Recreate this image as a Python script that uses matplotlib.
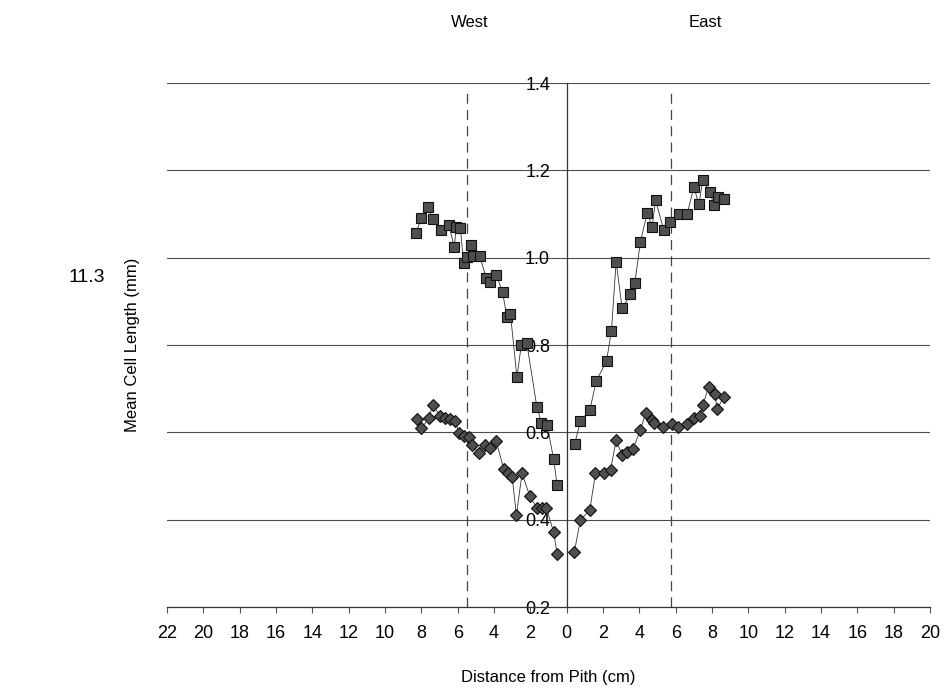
import matplotlib
matplotlib.use("Agg")
import matplotlib.pyplot as plt

plt.rcParams['font.family'] = ['Liberation Sans', 'DejaVu Sans']

# West side (plotted at negative distance)
west_sq_x = [8.28, 8.0, 7.64, 7.37, 6.9, 6.5, 6.19, 6.08, 5.86, 5.67, 5.49, 5.25, 5.16, 4.79,
             4.42, 4.2, 3.87, 3.53, 3.3, 3.1, 2.74, 2.5, 2.2, 1.64, 1.39, 1.08, 0.72, 0.53]
west_sq_y = [1.057, 1.092, 1.115, 1.089, 1.063, 1.076, 1.025, 1.07, 1.068, 0.987, 1.002, 1.029, 1.003, 1.003,
             0.953, 0.945, 0.96, 0.921, 0.865, 0.872, 0.726, 0.80, 0.805, 0.657, 0.622, 0.617, 0.539, 0.479]

west_di_x = [8.25, 8.0, 7.6, 7.37, 6.96, 6.68, 6.41, 6.13, 5.95, 5.67, 5.4, 5.22, 4.85, 4.48,
             4.2, 3.88, 3.47, 3.25, 3.0, 2.77, 2.46, 2.04, 1.64, 1.36, 1.12, 0.72, 0.53]
west_di_y = [0.63, 0.609, 0.632, 0.663, 0.637, 0.632, 0.63, 0.627, 0.599, 0.592, 0.59, 0.571, 0.553, 0.571,
             0.565, 0.58, 0.516, 0.506, 0.497, 0.41, 0.506, 0.455, 0.426, 0.427, 0.426, 0.372, 0.321]

# East side
east_sq_x = [0.44, 0.75, 1.27, 1.63, 2.19, 2.46, 2.72, 3.05, 3.51, 3.75, 4.06, 4.43, 4.7, 4.89,
             5.34, 5.71, 6.17, 6.63, 7.0, 7.27, 7.49, 7.88, 8.1, 8.35, 8.65]
east_sq_y = [0.573, 0.626, 0.651, 0.718, 0.763, 0.832, 0.991, 0.884, 0.916, 0.943, 1.037, 1.103, 1.071, 1.132,
             1.063, 1.082, 1.101, 1.1, 1.162, 1.122, 1.177, 1.151, 1.12, 1.14, 1.135]

east_di_x = [0.42, 0.75, 1.27, 1.58, 2.04, 2.41, 2.72, 3.05, 3.32, 3.64, 4.06, 4.34, 4.7, 4.8,
             5.31, 5.77, 6.13, 6.63, 7.0, 7.31, 7.49, 7.82, 8.15, 8.28, 8.65]
east_di_y = [0.326, 0.399, 0.422, 0.506, 0.506, 0.514, 0.582, 0.548, 0.556, 0.562, 0.605, 0.644, 0.628, 0.622,
             0.613, 0.618, 0.613, 0.618, 0.632, 0.637, 0.663, 0.704, 0.688, 0.653, 0.682]

x_ticks = list(range(-22, 21, 2))
x_tick_labels = [str(abs(v)) for v in x_ticks]
y_ticks = [0.2, 0.4, 0.6, 0.8, 1.0, 1.2, 1.4]
y_tick_labels = ["0.2", "0.4", "0.6", "0.8", "1.0", "1.2", "1.4"]
boundary_x = [-5.5, 5.73]

fig = plt.figure(figsize=(9.48, 6.89), dpi=100)
ax = fig.add_axes([0.1762, 0.119, 0.8049, 0.7605])
ax.set_xlim(-22, 20)
ax.set_ylim(0.2, 1.4)

for yv in y_ticks[1:]:
    ax.axhline(yv, color='#4d4d4d', lw=0.8, zorder=1)

for bx in boundary_x:
    ax.plot([bx, bx], [0.2, 1.39], color='#444444', lw=0.9, ls=(0, (8, 5)), zorder=1)

line_kw = dict(color='#333333', lw=0.6, zorder=2)
sq_kw = dict(marker='s', ms=7.5, mfc='#4f4f4f', mec='#111111', mew=0.8)
di_kw = dict(marker='D', ms=6.3, mfc='#4f4f4f', mec='#111111', mew=0.8)

ax.plot([-v for v in west_sq_x], west_sq_y, **line_kw, **sq_kw)
ax.plot([-v for v in west_di_x], west_di_y, **line_kw, **di_kw)
ax.plot(east_sq_x, east_sq_y, **line_kw, **sq_kw)
ax.plot(east_di_x, east_di_y, **line_kw, **di_kw)

for s in ['top', 'right']:
    ax.spines[s].set_visible(False)
ax.spines['left'].set_position(('data', 0))
ax.spines['left'].set_color('#333333')
ax.spines['left'].set_linewidth(0.9)
ax.spines['bottom'].set_color('#333333')
ax.spines['bottom'].set_linewidth(0.9)

ax.set_xticks(x_ticks)
ax.set_xticklabels(x_tick_labels, fontsize=13)
ax.tick_params(axis='x', direction='out', length=4, width=0.8, color='#555555', pad=9)
ax.set_yticks(y_ticks)
ax.set_yticklabels(y_tick_labels, fontsize=13)
ax.tick_params(axis='y', length=0, pad=12)
for lab in ax.get_yticklabels():
    lab.set_zorder(5)

ax.set_xlabel("Distance from Pith (cm)", fontsize=12, labelpad=20)
fig.text(0.140, 0.50, "Mean Cell Length (mm)", rotation=90, fontsize=12, ha='center', va='center')
fig.text(0.092, 0.597, "11.3", fontsize=14, ha='center', va='center')
fig.text(0.496, 0.968, "West", fontsize=12, ha='center', va='center')
fig.text(0.744, 0.968, "East", fontsize=12, ha='center', va='center')

fig.savefig("out.png", dpi=100)
